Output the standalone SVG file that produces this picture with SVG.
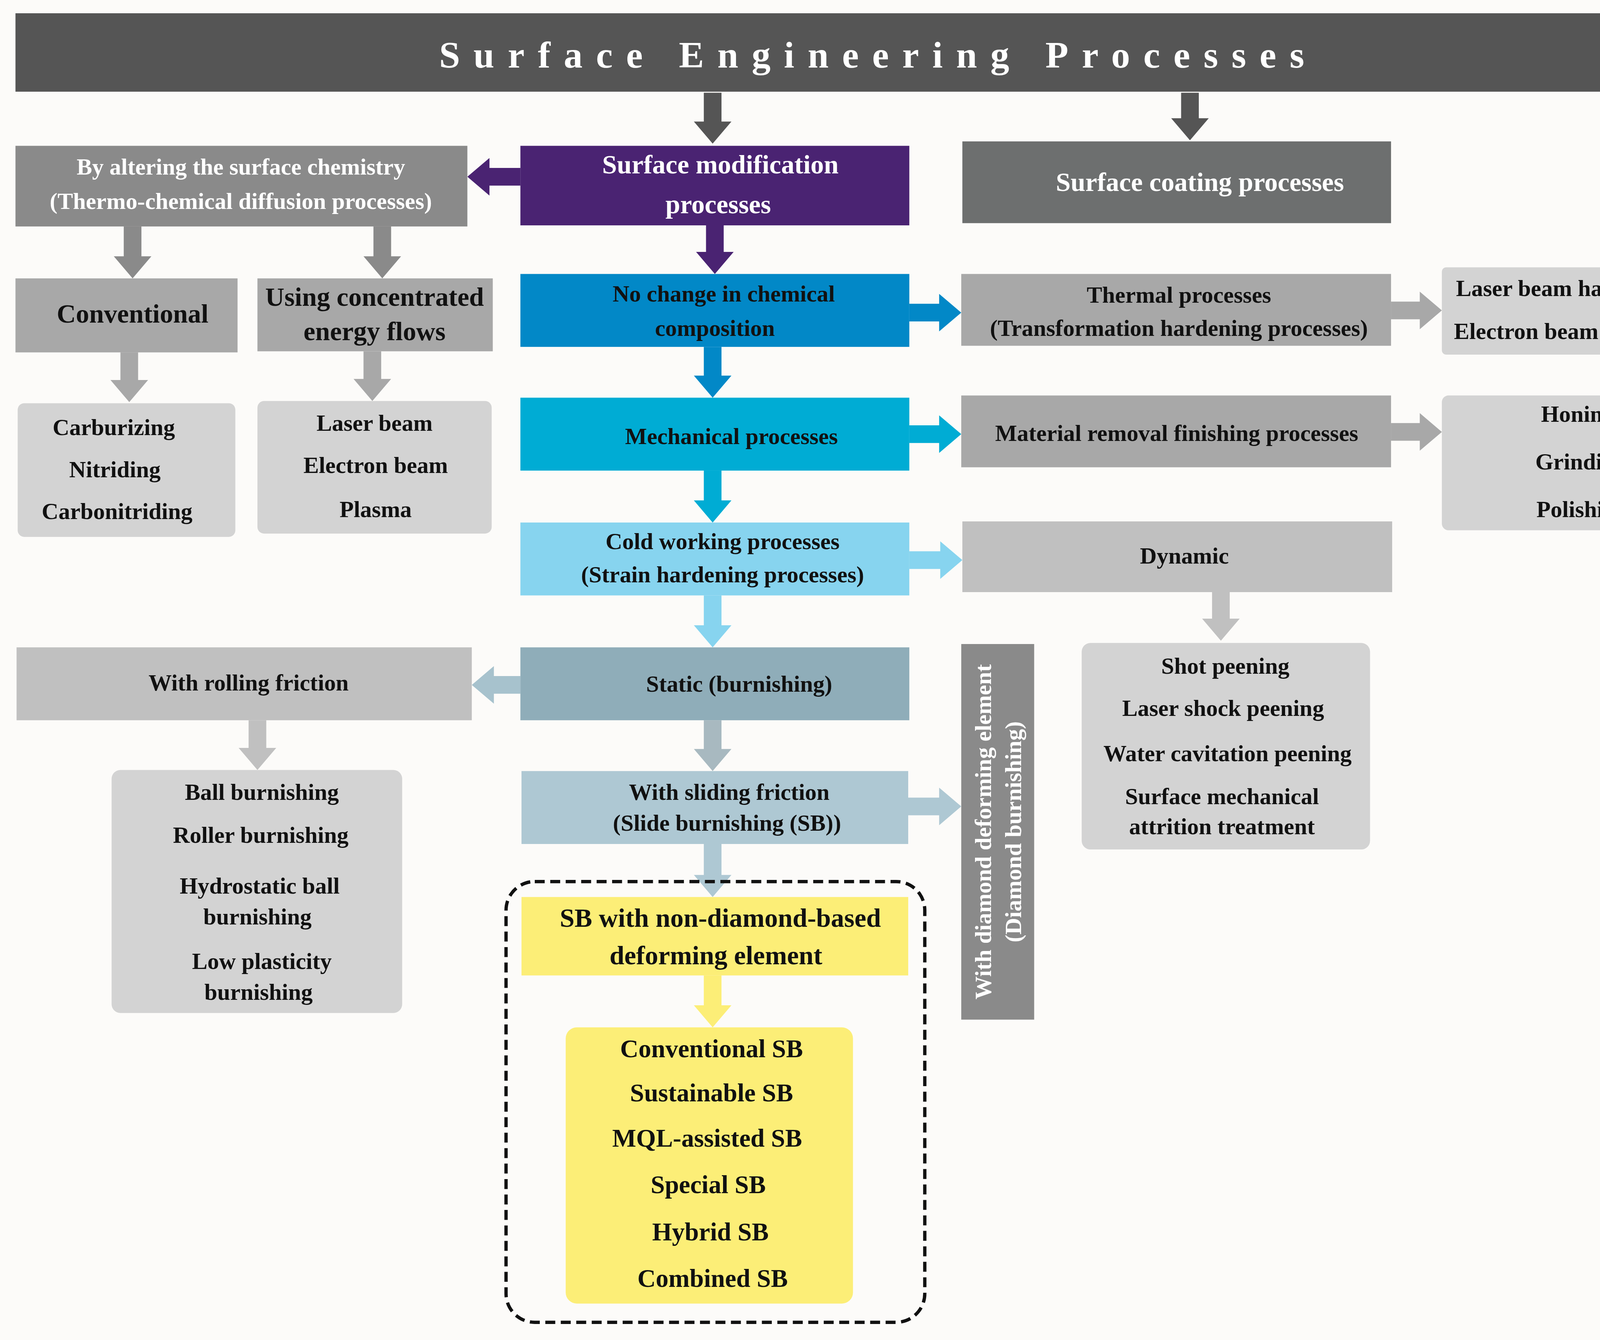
<svg xmlns="http://www.w3.org/2000/svg" width="4435" height="3431" viewBox="0 0 4435 3431">
<style>
text{font-family:"Liberation Serif","DejaVu Serif",serif;font-weight:bold;text-anchor:middle;font-size:21px;fill:#111}
.w{fill:#fff}
.big{font-size:24px}
</style>
<rect width="4435" height="3431" fill="#fcfbf9"/>
<g transform="scale(2.8285)">
<g id="connectors">
<polygon fill="#555" points="637,84 653,84 653,110 662,110 645,130 628,110 637,110"/>
<polygon fill="#555" points="1069,84 1085,84 1085,107 1094,107 1077,127 1060,107 1069,107"/>
<polygon fill="#4a2372" points="639,204 655,204 655,228 664,228 647,248 630,228 639,228"/>
<polygon fill="#4a2372" points="471,152 443,152 443,143 423,160 443,177 443,168 471,168"/>
<polygon fill="#8a8a8a" points="112,205 128,205 128,232 137,232 120,252 103,232 112,232"/>
<polygon fill="#8a8a8a" points="338,205 354,205 354,232 363,232 346,252 329,232 338,232"/>
<polygon fill="#a8a8a8" points="109,319 125,319 125,344 134,344 117,364 100,344 109,344"/>
<polygon fill="#a8a8a8" points="329,318 345,318 345,343 354,343 337,363 320,343 329,343"/>
<polygon fill="#0288c7" points="637,314 653,314 653,340 662,340 645,360 628,340 637,340"/>
<polygon fill="#0288c7" points="823,275 850,275 850,266 870,283 850,300 850,291 823,291"/>
<polygon fill="#a8a8a8" points="1259,273 1285,273 1285,264 1305,281 1285,298 1285,289 1259,289"/>
<polygon fill="#00acd4" points="637,426 653,426 653,453 662,453 645,473 628,453 637,453"/>
<polygon fill="#00acd4" points="823,385 850,385 850,376 870,393 850,410 850,401 823,401"/>
<polygon fill="#a8a8a8" points="1259,383 1285,383 1285,374 1305,391 1285,408 1285,399 1259,399"/>
<polygon fill="#87d4ef" points="637,539 653,539 653,566 662,566 645,586 628,566 637,566"/>
<polygon fill="#87d4ef" points="823,499 851,499 851,490 871,507 851,524 851,515 823,515"/>
<polygon fill="#c0c0c0" points="1097,536 1113,536 1113,560 1122,560 1105,580 1088,560 1097,560"/>
<polygon fill="#a7c2cd" points="471,612 447,612 447,603 427,620 447,637 447,628 471,628"/>
<polygon fill="#a8b9c0" points="637,652 653,652 653,678 662,678 645,698 628,678 637,678"/>
<polygon fill="#c0c0c0" points="225,652 241,652 241,677 250,677 233,697 216,677 225,677"/>
<polygon fill="#aec8d3" points="822,722 850,722 850,713 870,730 850,747 850,738 822,738"/>
<polygon fill="#aec8d3" points="637,764 653,764 653,792 662,792 645,812 628,792 637,792"/>
<polygon fill="#fcee77" points="637,883 653,883 653,910 662,910 645,930 628,910 637,910"/>
</g>
<g id="title"><rect x="14" y="12" width="1541" height="71" fill="#555"/>
<text x="789" y="61" class="w" style="font-size:34px" textLength="783" lengthAdjust="spacing">Surface Engineering Processes</text></g>
<g id="chem"><rect x="14" y="132" width="409" height="73" fill="#8a8a8a"/>
<text x="218" y="158" class="w">By altering the surface chemistry</text><text x="218" y="189" class="w">(Thermo-chemical diffusion processes)</text></g>
<g id="surfmod"><rect x="471" y="132" width="352" height="72" fill="#4a2372"/>
<text x="652" y="157" class="w big">Surface modification</text><text x="650" y="193" class="w big">processes</text></g>
<g id="coating"><rect x="871" y="128" width="388" height="74" fill="#6d6f6f"/>
<text x="1086" y="173" class="w big">Surface coating processes</text></g>
<g id="conventional"><rect x="14" y="252" width="201" height="67" fill="#a8a8a8"/>
<text x="120" y="292" class="big">Conventional</text></g>
<g id="concentrated"><rect x="233" y="252" width="213" height="66" fill="#a8a8a8"/>
<text x="339" y="277" class="big">Using concentrated</text><text x="339" y="308" class="big">energy flows</text></g>
<g id="thermochem-list"><rect x="16" y="365" width="197" height="121" rx="6" fill="#d3d3d3"/>
<text x="103" y="394">Carburizing</text><text x="104" y="432">Nitriding</text><text x="106" y="470">Carbonitriding</text></g>
<g id="energy-list"><rect x="233" y="363" width="212" height="120" rx="6" fill="#d3d3d3"/>
<text x="339" y="390">Laser beam</text><text x="340" y="428">Electron beam</text><text x="340" y="468">Plasma</text></g>
<g id="nochange"><rect x="471" y="248" width="352" height="66" fill="#0288c7"/>
<text x="655" y="273">No change in chemical</text><text x="647" y="304">composition</text></g>
<g id="thermal"><rect x="870" y="248" width="389" height="65" fill="#a8a8a8"/>
<text x="1067" y="274">Thermal processes</text><text x="1067" y="304">(Transformation hardening processes)</text></g>
<g id="hardening-list"><rect x="1305" y="242" width="250" height="79" rx="4" fill="#d3d3d3"/>
<text x="1419" y="268">Laser beam hardening</text><text x="1430" y="307">Electron beam hardening</text></g>
<g id="mechanical"><rect x="471" y="360" width="352" height="66" fill="#00acd4"/>
<text x="662" y="402">Mechanical processes</text></g>
<g id="removal"><rect x="870" y="358" width="389" height="65" fill="#a8a8a8"/>
<text x="1065" y="399">Material removal finishing processes</text></g>
<g id="removal-list"><rect x="1305" y="358" width="249" height="122" rx="6" fill="#d3d3d3"/>
<text x="1428" y="382">Honing</text><text x="1431" y="425">Grinding</text><text x="1432" y="468">Polishing</text></g>
<g id="cold"><rect x="471" y="473" width="352" height="66" fill="#87d4ef"/>
<text x="654" y="497">Cold working processes</text><text x="654" y="527">(Strain hardening processes)</text></g>
<g id="dynamic"><rect x="871" y="472" width="389" height="64" fill="#c0c0c0"/>
<text x="1072" y="510">Dynamic</text></g>
<g id="dynamic-list"><rect x="979" y="582" width="261" height="187" rx="8" fill="#d3d3d3"/>
<text x="1109" y="610">Shot peening</text><text x="1107" y="648">Laser shock peening</text><text x="1111" y="689">Water cavitation peening</text><text x="1106" y="728">Surface mechanical</text><text x="1106" y="755">attrition treatment</text></g>
<g id="static"><rect x="471" y="586" width="352" height="66" fill="#8fadb9"/>
<text x="669" y="626">Static (burnishing)</text></g>
<g id="rolling"><rect x="15" y="586" width="412" height="66" fill="#c0c0c0"/>
<text x="225" y="625">With rolling friction</text></g>
<g id="rolling-list"><rect x="101" y="697" width="263" height="220" rx="8" fill="#d3d3d3"/>
<text x="237" y="724">Ball burnishing</text><text x="236" y="763">Roller burnishing</text><text x="235" y="809">Hydrostatic ball</text><text x="233" y="837">burnishing</text><text x="237" y="877">Low plasticity</text><text x="234" y="905">burnishing</text></g>
<g id="sliding"><rect x="472" y="698" width="350" height="66" fill="#aec8d3"/>
<text x="660" y="724">With sliding friction</text><text x="658" y="752">(Slide burnishing (SB))</text></g>
<g id="diamond"><rect x="870" y="583" width="66" height="340" fill="#8a8a8a"/>
<g transform="translate(903,753) rotate(-90)"><text x="0" y="-6" class="w">With diamond deforming element</text><text x="0" y="21" class="w">(Diamond burnishing)</text></g></g>
<g id="nondiamond-group"><rect x="458" y="798" width="379" height="399" rx="26" fill="none" stroke="#111" stroke-width="3" stroke-dasharray="9,5"/></g>
<g id="nondiamond"><rect x="472" y="812" width="350" height="71" fill="#fcee77"/>
<text x="652" y="839" class="big">SB with non-diamond-based</text><text x="648" y="873" class="big">deforming element</text></g>
<g id="sb-list"><rect x="512" y="930" width="260" height="250" rx="10" fill="#fcee77"/>
<text x="644" y="957" style="font-size:23px">Conventional SB</text><text x="644" y="997" style="font-size:23px">Sustainable SB</text><text x="640" y="1038" style="font-size:23px">MQL-assisted SB</text><text x="641" y="1080" style="font-size:23px">Special SB</text><text x="643" y="1123" style="font-size:23px">Hybrid SB</text><text x="645" y="1165" style="font-size:23px">Combined SB</text></g>
</g>
</svg>
